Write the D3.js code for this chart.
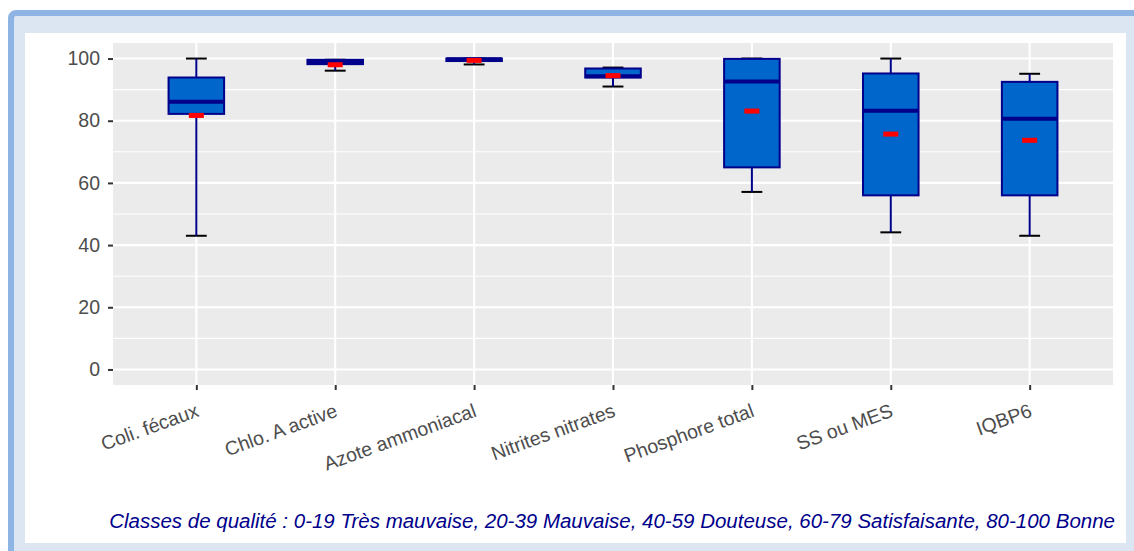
<!DOCTYPE html>
<html><head><meta charset="utf-8">
<script src="https://cdn.jsdelivr.net/npm/d3@7"></script>
<style>html,body{margin:0;padding:0;background:#fff;overflow:hidden}</style>
</head><body>
<svg id="chart" width="1134" height="551"></svg>
<script>
const categories = ["Coli. fécaux","Chlo. A active","Azote ammoniacal","Nitrites nitrates","Phosphore total","SS ou MES","IQBP6"];
const whiskerLow  = [43, 96.1, 98.1, 91.0, 57.1, 44.1, 43.0];
const q1          = [82.2, 98.2, 99.2, 93.9, 65.0, 56.0, 56.0];
const median      = [86.1, 98.9, 99.8, 94.3, 92.6, 83.2, 80.6];
const q3          = [93.9, 99.6, 100, 96.8, 99.9, 95.2, 92.5];
const whiskerHigh = [100, 99.6, 100, 97.1, 100, 100, 95.1];
const mean        = [81.7, 98.0, 99.4, 94.5, 83.1, 75.7, 73.7];
const yTicks = [0,20,40,60,80,100];
const yMinor = [10,30,50,70,90];
const caption = "Classes de qualité : 0-19 Très mauvaise, 20-39 Mauvaise, 40-59 Douteuse, 60-79 Satisfaisante, 80-100 Bonne";

const FONT = "Liberation Sans, Arial, sans-serif";
const svg = d3.select("#chart");
// frame
svg.append("rect").attr("x",11).attr("y",13).attr("width",1140).attr("height",560).attr("rx",5)
  .attr("fill","#dce6f2").attr("stroke","#8eb4e3").attr("stroke-width",6);
svg.append("rect").attr("x",25).attr("y",33).attr("width",1101).attr("height",510).attr("fill","#ffffff");

const L=113,R=1113,T=43,B=385;
const x = d3.scalePoint().domain(categories).range([L,R]).padding(0.6);
const y = d3.scaleLinear().domain([-5,105]).range([B,T]);
const step = x.step();

svg.append("rect").attr("x",L).attr("y",T).attr("width",R-L).attr("height",B-T).attr("fill","#ebebeb");
const g = svg.append("g");
g.selectAll(".minor").data(yMinor).join("line").attr("x1",L).attr("x2",R)
  .attr("y1",d=>y(d)).attr("y2",d=>y(d)).attr("stroke","#fff").attr("stroke-width",1.1);
g.selectAll(".major").data(yTicks).join("line").attr("x1",L).attr("x2",R)
  .attr("y1",d=>y(d)).attr("y2",d=>y(d)).attr("stroke","#fff").attr("stroke-width",2.1);
g.selectAll(".vmajor").data(categories).join("line").attr("y1",T).attr("y2",B)
  .attr("x1",d=>x(d)).attr("x2",d=>x(d)).attr("stroke","#fff").attr("stroke-width",2.1);

// axes
const yAxis = d3.axisLeft(y).tickValues(yTicks).tickSize(5).tickPadding(8);
const ya = svg.append("g").attr("transform",`translate(${L},0)`).call(yAxis);
ya.select(".domain").remove();
ya.selectAll("line").attr("stroke","#333").attr("stroke-width",2);
ya.selectAll("text").attr("fill","#4d4d4d").attr("font-size","19.5px").attr("font-family",FONT);

const xAxis = d3.axisBottom(x).tickSize(5).tickPadding(0);
const xa = svg.append("g").attr("transform",`translate(0,${B})`).call(xAxis);
xa.select(".domain").remove();
xa.selectAll("line").attr("stroke","#333").attr("stroke-width",2);
xa.selectAll("text").attr("fill","#4d4d4d").attr("font-size","19.5px").attr("font-family",FONT)
  .attr("text-anchor","end").attr("dy",null).attr("y",null)
  .attr("transform","translate(3,31) rotate(-20)");

// boxes
const idx = d3.range(categories.length);
const bw = step*0.4, cw = step*0.15;
const bx = svg.append("g");
bx.selectAll(".capH").data(idx).join("line")
  .attr("x1",i=>x(categories[i])-cw/2).attr("x2",i=>x(categories[i])+cw/2)
  .attr("y1",i=>y(whiskerHigh[i])).attr("y2",i=>y(whiskerHigh[i])).attr("stroke","#000").attr("stroke-width",2);
bx.selectAll(".capL").data(idx).join("line")
  .attr("x1",i=>x(categories[i])-cw/2).attr("x2",i=>x(categories[i])+cw/2)
  .attr("y1",i=>y(whiskerLow[i])).attr("y2",i=>y(whiskerLow[i])).attr("stroke","#000").attr("stroke-width",2);
bx.selectAll(".wh").data(idx).join("line")
  .attr("x1",i=>x(categories[i])).attr("x2",i=>x(categories[i]))
  .attr("y1",i=>y(q3[i])).attr("y2",i=>y(whiskerHigh[i])).attr("stroke","#00008b").attr("stroke-width",2);
bx.selectAll(".wl").data(idx).join("line")
  .attr("x1",i=>x(categories[i])).attr("x2",i=>x(categories[i]))
  .attr("y1",i=>y(q1[i])).attr("y2",i=>y(whiskerLow[i])).attr("stroke","#00008b").attr("stroke-width",2);
bx.selectAll(".box").data(idx).join("rect")
  .attr("x",i=>x(categories[i])-bw/2).attr("width",bw)
  .attr("y",i=>y(q3[i])).attr("height",i=>y(q1[i])-y(q3[i]))
  .attr("fill","#0066cc").attr("stroke","#00008b").attr("stroke-width",2);
bx.selectAll(".med").data(idx).join("line")
  .attr("x1",i=>x(categories[i])-bw/2).attr("x2",i=>x(categories[i])+bw/2)
  .attr("y1",i=>y(median[i])).attr("y2",i=>y(median[i])).attr("stroke","#00008b").attr("stroke-width",4);
bx.selectAll(".mean").data(idx).join("rect")
  .attr("x",i=>x(categories[i])-7.5).attr("width",15)
  .attr("y",i=>y(mean[i])-2.5).attr("height",5).attr("fill","#ff0000");

svg.append("text").attr("x",1115).attr("y",528).attr("text-anchor","end")
  .attr("font-family",FONT).attr("font-size","20.5px").attr("font-style","italic")
  .attr("fill","#00008b").text(caption);
</script>
</body></html>
